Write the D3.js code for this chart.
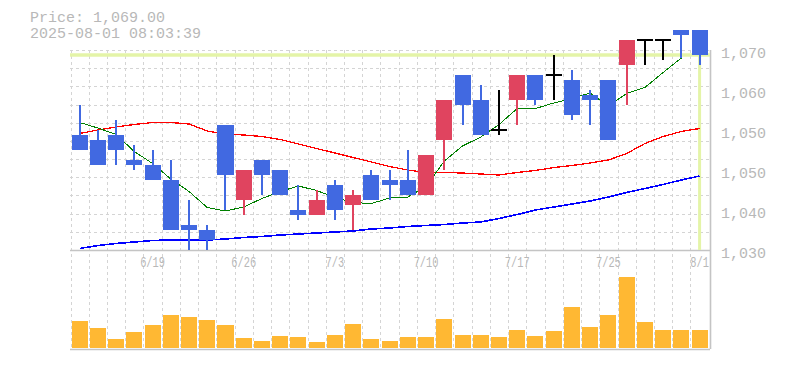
<!DOCTYPE html>
<html><head><meta charset="utf-8">
<script src="https://cdn.jsdelivr.net/npm/d3@7/dist/d3.min.js"></script>
<style>body{margin:0;background:#fff}svg{display:block}</style>
</head><body><svg id="c" width="785" height="370"></svg>
<script>
const dates = ["6/13","6/16","6/17","6/18","6/19","6/20","6/23","6/24","6/25","6/26","6/27","6/30","7/1","7/2","7/3","7/4","7/7","7/8","7/9","7/10","7/11","7/14","7/15","7/16","7/17","7/18","7/22","7/23","7/24","7/25","7/28","7/29","7/30","7/31","8/1"];
const open  = [1053,1052,1053,1048,1047,1044,1035,1034,1055,1040,1048,1046,1038,1037,1043,1039,1045,1044,1044,1041,1052,1065,1060,1054,1060,1065,1065,1064,1061,1064,1067,1072,1072,1074,1074];
const high  = [1059,1054,1056,1051,1050,1048,1040,1035,1055,1046,1048,1046,1043,1042,1044,1042,1046,1046,1050,1049,1060,1065,1063,1062,1065,1065,1069,1066,1062,1064,1072,1072,1072,1074,1074];
const low   = [1050,1047,1047,1046,1044,1034,1030,1030,1038,1037,1041,1041,1036,1037,1036,1034,1040,1040,1041,1041,1046,1055,1053,1053,1055,1059,1060,1056,1055,1052,1059,1067,1068,1068.5,1067];
const close = [1050,1047,1050,1047,1044,1034,1034,1032,1045,1046,1045,1041,1037,1040,1038,1041,1040,1043,1041,1049,1060,1059,1053,1054,1065,1060,1065,1057,1060,1052,1072,1072,1072,1073,1069];
const volume = [27,20,9,16,23,33,31,28,23,10,7,12,11,6,13,24,9,7,11,11,29,13,13,11,18,12,17,41,21,33,71,26,18,18,18];
const ma5  = [1055.5,1054.4,1053.1,1049.7,1047.3,1044.2,1041.7,1038.5,1037.8,1038.6,1040.3,1041.7,1042.8,1041.9,1040.5,1039.5,1039.3,1040.4,1040.6,1042.7,1047.8,1050.8,1052.6,1055.1,1058.3,1058.3,1059.4,1060.3,1061.4,1058.8,1061.3,1062.5,1065.5,1068.4,null];
const ma25 = [1053.3,1054.0,1054.6,1055.1,1055.5,1055.5,1055.2,1053.8,1053.2,1053.0,1052.7,1052.1,1051.2,1050.3,1049.4,1048.5,1047.6,1046.7,1046.0,1045.5,1045.5,1045.4,1045.2,1045.0,1045.5,1045.9,1046.5,1046.9,1047.4,1048.0,1049.3,1051.3,1052.7,1053.7,1054.3];
const ma75 = [1030.3,1030.9,1031.3,1031.6,1031.9,1032.0,1032.0,1032.0,1032.2,1032.5,1032.7,1033.0,1033.2,1033.4,1033.6,1033.8,1034.2,1034.4,1034.7,1034.9,1035.1,1035.4,1035.6,1036.3,1037.1,1038.0,1038.6,1039.2,1039.8,1040.6,1041.5,1042.3,1043.1,1044.0,1044.8];
const yTickValues = [1070,1062,1054,1046,1038,1030];
const yTickLabels = ["1,070","1,060","1,050","1,050","1,040","1,030"];
const xTickLabels = ["6/19","6/26","7/3","7/10","7/17","7/25","8/1"];
const lastPrice = 1069;
const headerLines = ["Price: 1,069.00","2025-08-01 08:03:39"];

const svg = d3.select("#c");
const L = 70, R = 710, T = 50, B = 250, VB = 349;
const n = dates.length;
const x = d3.scaleBand().domain(d3.range(n)).range([70.5, 708.7]).paddingInner(0.12).paddingOuter(0.06);
const cx = i => x(i) + x.bandwidth() / 2;
const y = d3.scaleLinear().domain([1030, 1070]).range([B, T]);
const vy = d3.scaleLinear().domain([0, 98]).range([348, 250]);
const gridY = d3.scaleLinear().domain([0, 11]).range([B, T]);

const gridColor = "#d4d4d4";
const g = svg.append("g");
g.selectAll("line.vg").data(d3.range(n)).enter().append("line")
  .attr("x1", i => Math.round(x(i) - x.step() * 0.06) + 0.5)
  .attr("x2", i => Math.round(x(i) - x.step() * 0.06) + 0.5)
  .attr("y1", T).attr("y2", VB)
  .attr("stroke", gridColor).attr("stroke-width", 1).attr("stroke-dasharray", "3,3");
g.selectAll("line.hg").data(d3.range(1, 12)).enter().append("line")
  .attr("x1", L).attr("x2", R)
  .attr("y1", k => Math.round(gridY(k)) + 0.5).attr("y2", k => Math.round(gridY(k)) + 0.5)
  .attr("stroke", gridColor).attr("stroke-width", 1).attr("stroke-dasharray", "3,3");
const frame = "#c4c4c4";
g.append("line").attr("x1", L).attr("x2", R).attr("y1", B + 0.5).attr("y2", B + 0.5).attr("stroke", frame).attr("stroke-width", 1.6);
g.append("line").attr("x1", L).attr("x2", R).attr("y1", VB + 0.5).attr("y2", VB + 0.5).attr("stroke", frame).attr("stroke-width", 1.6);
g.append("line").attr("x1", R + 0.5).attr("x2", R + 0.5).attr("y1", T).attr("y2", VB).attr("stroke", frame).attr("stroke-width", 1.6);

const hl = "#e4f4a8";
g.append("line").attr("x1", L).attr("x2", R).attr("y1", y(lastPrice)).attr("y2", y(lastPrice)).attr("stroke", hl).attr("stroke-width", 3.5);
g.append("line").attr("x1", cx(n - 1)).attr("x2", cx(n - 1)).attr("y1", y(lastPrice)).attr("y2", B).attr("stroke", hl).attr("stroke-width", 3);

const mkLine = d3.line().defined(d => d[1] != null).x(d => cx(d[0])).y(d => y(d[1]));
[[ma75, "#0000ff", 1.6], [ma25, "#ff0000", 1.3], [ma5, "#008000", 1]].forEach(([arr, col, w]) => {
  svg.append("path").datum(arr.map((v, i) => [i, v])).attr("d", mkLine)
    .attr("fill", "none").attr("stroke", col).attr("stroke-width", w).attr("shape-rendering", "crispEdges");
});

const UP = "#e0445f", DOWN = "#4169e1", DOJI = "#000";
const colorOf = i => close[i] > open[i] ? UP : (close[i] < open[i] ? DOWN : DOJI);
const cg = svg.append("g").attr("shape-rendering", "crispEdges");
d3.range(n).forEach(i => {
  const c = colorOf(i);
  cg.append("line").attr("x1", cx(i)).attr("x2", cx(i)).attr("y1", y(high[i])).attr("y2", y(low[i]))
    .attr("stroke", c).attr("stroke-width", 2);
  if (open[i] === close[i]) {
    cg.append("line").attr("x1", x(i)).attr("x2", x(i) + x.bandwidth()).attr("y1", y(open[i])).attr("y2", y(open[i]))
      .attr("stroke", c).attr("stroke-width", 2);
  } else {
    cg.append("rect").attr("x", x(i)).attr("width", x.bandwidth())
      .attr("y", y(Math.max(open[i], close[i])))
      .attr("height", Math.abs(y(open[i]) - y(close[i])))
      .attr("fill", c);
  }
});

svg.append("g").attr("shape-rendering", "crispEdges").selectAll("rect").data(volume).enter().append("rect")
  .attr("x", (d, i) => x(i)).attr("width", x.bandwidth())
  .attr("y", d => vy(d)).attr("height", d => vy(0) - vy(d))
  .attr("fill", "#ffb833");

const font = "'Liberation Mono', 'DejaVu Sans Mono', monospace";
const tcol = "#b8b8b8";
headerLines.forEach((t, k) => {
  svg.append("text").attr("x", 30).attr("y", 22 + k * 16).text(t)
    .attr("font-family", font).attr("font-size", 15).attr("fill", tcol);
});
yTickValues.forEach((v, k) => {
  svg.append("text").attr("x", 721).attr("y", y(v) + 7.8).text(yTickLabels[k])
    .attr("font-family", font).attr("font-size", 15).attr("fill", tcol);
});
xTickLabels.forEach(lbl => {
  const i = dates.indexOf(lbl);
  svg.append("g").attr("transform", `translate(${cx(i)},266.8) scale(0.74,1)`)
    .append("text").attr("text-anchor", "middle").text(lbl)
    .attr("font-family", font).attr("font-size", 14).attr("fill", tcol);
});
</script>
</body></html>
